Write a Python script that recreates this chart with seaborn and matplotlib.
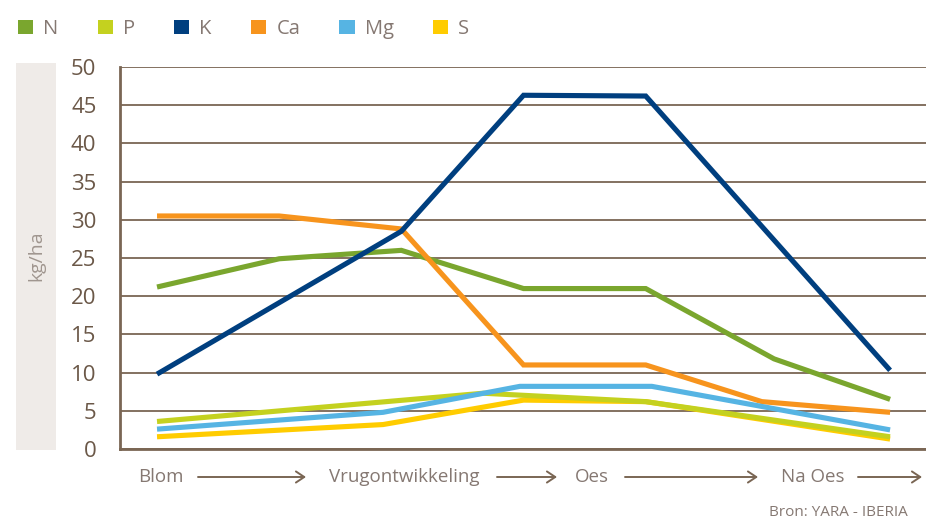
import pandas as pd
import matplotlib.pyplot as plt
import seaborn as sns
from matplotlib.patches import Patch, Rectangle

# ---------- data (stage position along the season, kg/ha) ----------
elements = ["N", "P", "K", "Ca", "Mg", "S"]
colors = ["#7aa62e", "#c4d11f", "#003f7f", "#f7941d", "#56b4e3", "#ffcc00"]

n_x = [0, 1, 2, 3, 4, 5.05, 6]
n_y = [21.2, 24.9, 26.0, 21.0, 21.0, 11.8, 6.5]
p_x = [0, 2.67, 4, 6]
p_y = [3.6, 7.3, 6.2, 1.6]
k_x = [0, 2, 3, 4, 6]
k_y = [9.8, 28.5, 46.3, 46.2, 10.3]
ca_x = [0, 1, 2, 3, 4, 4.95, 6]
ca_y = [30.5, 30.5, 28.8, 11.0, 11.0, 6.2, 4.8]
mg_x = [0, 1.85, 2.97, 4.05, 6]
mg_y = [2.6, 4.8, 8.2, 8.2, 2.5]
s_x = [0, 1.85, 3, 4, 6]
s_y = [1.6, 3.2, 6.4, 6.2, 1.3]

stages = ["Blom", "Vrugontwikkeling", "Oes", "Na Oes"]
y_ticks = [0, 5, 10, 15, 20, 25, 30, 35, 40, 45, 50]

series = {"N": (n_x, n_y), "P": (p_x, p_y), "K": (k_x, k_y),
          "Ca": (ca_x, ca_y), "Mg": (mg_x, mg_y), "S": (s_x, s_y)}
rows = []
for name, (xs, ys) in series.items():
    for x, y in zip(xs, ys):
        rows.append({"stage": x, "kg_ha": y, "element": name})
df = pd.DataFrame(rows)

# ---------- style ----------
sns.set_style("white")
plt.rcParams["font.family"] = ["Open Sans", "DejaVu Sans"]
brown = "#7a6654"
txt = "#857872"

W, H = 926, 520
fig = plt.figure(figsize=(W / 100, H / 100), dpi=100)
ax = fig.add_axes([120 / W, (H - 449) / H, (W - 120) / W, (449 - 67) / H])

def fx(x):
    return x / W

def fy(y):
    return 1 - y / H

# draw order: N, Ca, S, P, Mg, K
palette = dict(zip(elements, colors))
for name in ["N", "Ca", "S", "P", "Mg", "K"]:
    sub = df[df["element"] == name]
    sns.lineplot(data=sub, x="stage", y="kg_ha", color=palette[name], linewidth=3.7,
                 sort=False, estimator=None, ax=ax, legend=False,
                 solid_capstyle="butt", solid_joinstyle="miter", zorder=3)

ax.set_xlim(-0.303, 6.294)
ax.set_ylim(0, 50)
ax.set_yticks(y_ticks)
ax.set_xticks([])
ax.set_xlabel("")
ax.set_ylabel("")
ax.yaxis.grid(True, color=brown, linewidth=1.3)
ax.set_axisbelow(True)
ax.tick_params(axis="y", length=0, pad=17, labelsize=16, labelcolor="#6b5848")
for s in ["top", "right"]:
    ax.spines[s].set_visible(False)
ax.spines["left"].set_color(brown)
ax.spines["left"].set_linewidth(2)
ax.spines["bottom"].set_color(brown)
ax.spines["bottom"].set_linewidth(2)

# y label panel
fig.patches.append(Rectangle((fx(16), fy(450)), fx(40), (450 - 63) / H,
                             transform=fig.transFigure, facecolor="#efebe8",
                             edgecolor="none", zorder=0))
fig.text(fx(36), fy(256), "kg/ha", rotation=90, ha="center", va="center",
         fontsize=14, color="#a0968f")

# legend
handles = [Patch(facecolor=c, edgecolor="none", label=e) for e, c in zip(elements, colors)]
fig.legend(handles=handles, loc="center left", bbox_to_anchor=(fx(18), fy(29)),
           ncol=6, frameon=False, fontsize=14.5, labelcolor=txt,
           handlelength=0.75, handleheight=0.75, handletextpad=0.5,
           columnspacing=1.95, borderaxespad=0, borderpad=0)

# stage labels with arrows
label_pos = [161, 404, 592, 813]
for lab, x in zip(stages, label_pos):
    fig.text(fx(x), fy(477), lab, ha="center", va="center", fontsize=13.5, color=txt)
arrows = [(198, 306), (497, 557), (625, 758), (858, 922)]
for x0, x1 in arrows:
    fig.add_artist(plt.Annotation("", xy=(fx(x1), fy(477)), xytext=(fx(x0), fy(477)),
                                  xycoords="figure fraction", textcoords="figure fraction",
                                  arrowprops=dict(arrowstyle="->,head_length=0.6,head_width=0.4",
                                                  color=brown, lw=1.4,
                                                  shrinkA=0, shrinkB=0)))

fig.text(fx(908), fy(513), "Bron: YARA - IBERIA", ha="right", va="center",
         fontsize=11, color=txt)

fig.savefig("out.png", dpi=100)
